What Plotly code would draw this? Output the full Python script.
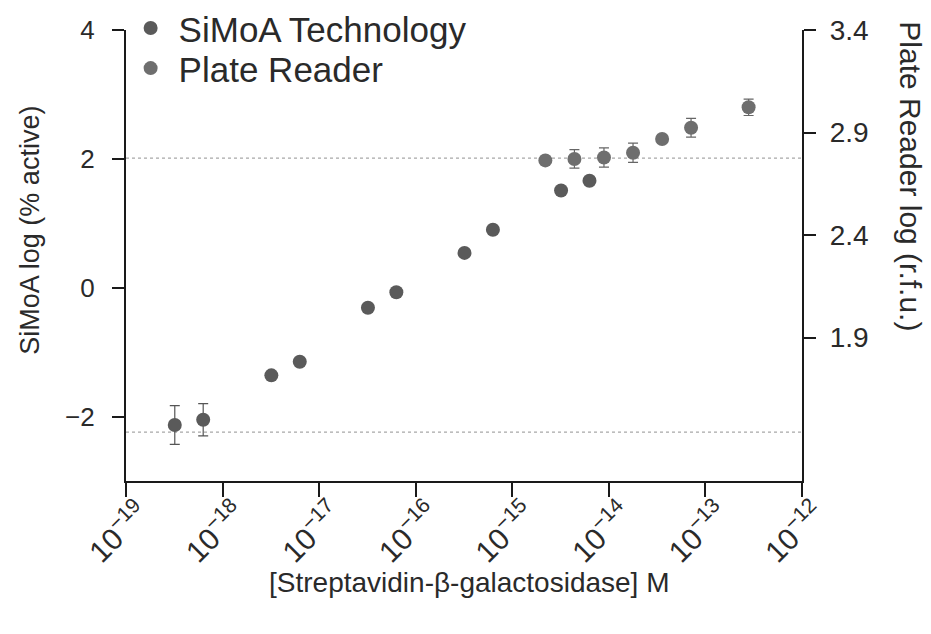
import plotly.graph_objects as go

# ---- data ----
simoa_conc = [3.2e-19, 6.3e-19, 3.2e-18, 6.3e-18, 3.2e-17, 6.3e-17,
              3.2e-16, 6.3e-16, 3.2e-15, 6.3e-15]
simoa_log = [-2.13, -2.05, -1.36, -1.15, -0.31, -0.07, 0.54, 0.90, 1.51, 1.66]
simoa_err = [0.30, 0.25, 0, 0, 0, 0, 0, 0, 0, 0]

plate_conc = [2.2e-15, 4.4e-15, 8.9e-15, 1.78e-14, 3.56e-14, 7.1e-14, 2.8e-13]
plate_log = [2.764, 2.771, 2.778, 2.801, 2.868, 2.923, 3.023]
plate_err = [0.0, 0.045, 0.047, 0.047, 0.012, 0.046, 0.040]

simoa_background = -2.24
plate_background = 2.775

x_range_exp = [-19, -12]
left_ticks = [-2, 0, 2, 4]
right_ticks = [1.9, 2.4, 2.9, 3.4]
left_range = [-3, 4]
right_range = [1.2, 3.4]

FONT = "Liberation Sans, Arial, Helvetica, sans-serif"
TXT = "#2a2a2a"

fig = go.Figure()

# background (dotted) lines
fig.add_trace(go.Scatter(
    x=[10 ** x_range_exp[0], 10 ** x_range_exp[1]],
    y=[simoa_background, simoa_background],
    mode="lines", line=dict(color="#a8a8a8", width=1.2, dash="dot"),
    showlegend=False, hoverinfo="skip", yaxis="y"))
fig.add_trace(go.Scatter(
    x=[10 ** x_range_exp[0], 10 ** x_range_exp[1]],
    y=[plate_background, plate_background],
    mode="lines", line=dict(color="#a8a8a8", width=1.2, dash="dot"),
    showlegend=False, hoverinfo="skip", yaxis="y2"))

fig.add_trace(go.Scatter(
    x=simoa_conc, y=simoa_log, mode="markers", name="SiMoA Technology",
    marker=dict(size=14, color="#5a5a5a"),
    error_y=dict(type="data", array=simoa_err, color="#555555",
                 thickness=1.2, width=5),
    yaxis="y", legend="legend"))
fig.add_trace(go.Scatter(
    x=plate_conc, y=plate_log, mode="markers", name="Plate Reader",
    marker=dict(size=14, color="#6e6e6e"),
    error_y=dict(type="data", array=plate_err, color="#666666",
                 thickness=1.2, width=5),
    yaxis="y2", legend="legend2"))

axis_common = dict(showgrid=False, zeroline=False, showline=True,
                   linecolor="#1a1a1a", linewidth=2.2, automargin=False,
                   ticks="outside", tickcolor="#1a1a1a", tickwidth=2)

legend_common = dict(xanchor="left", yanchor="middle", itemwidth=46,
                     bgcolor="rgba(0,0,0,0)",
                     font=dict(family=FONT, size=35, color=TXT))

fig.update_layout(
    width=923, height=626,
    margin=dict(l=118, r=129, t=22, b=153, autoexpand=False),
    plot_bgcolor="white", paper_bgcolor="white",
    xaxis=dict(type="log", range=x_range_exp, dtick=1,
               exponentformat="power", tickangle=-45, ticklen=14,
               ticklabelstandoff=-12, ticklabelshift=14,
               tickfont=dict(family=FONT, size=24, color=TXT), **axis_common),
    yaxis=dict(range=left_range, tickvals=left_ticks, ticklen=12,
               ticklabelstandoff=12,
               tickfont=dict(family=FONT, size=26, color=TXT), **axis_common),
    yaxis2=dict(range=right_range, tickvals=right_ticks, ticklen=12,
                overlaying="y", side="right", ticklabelstandoff=8,
                tickformat=".1f",
                tickfont=dict(family=FONT, size=28, color=TXT), **axis_common),
    legend=dict(x=-0.005, y=1.004, **legend_common),
    legend2=dict(x=-0.005, y=0.915, **legend_common),
    annotations=[
        dict(text="[Streptavidin-\u03b2-galactosidase] M", xref="paper", yref="paper",
             x=0.508, y=-0.225, xanchor="center", yanchor="middle",
             showarrow=False, font=dict(family=FONT, size=28, color=TXT)),
        dict(text="SiMoA log (% active)", xref="paper", yref="paper",
             x=-0.142, y=0.555, xanchor="center", yanchor="middle", textangle=-90,
             showarrow=False, font=dict(family=FONT, size=27, color=TXT)),
        dict(text="Plate Reader log (r.f.u.)", xref="paper", yref="paper",
             x=1.161, y=0.676, xanchor="center", yanchor="middle", textangle=90,
             showarrow=False, font=dict(family=FONT, size=30, color=TXT)),
    ],
)

fig.write_html("out.html")
